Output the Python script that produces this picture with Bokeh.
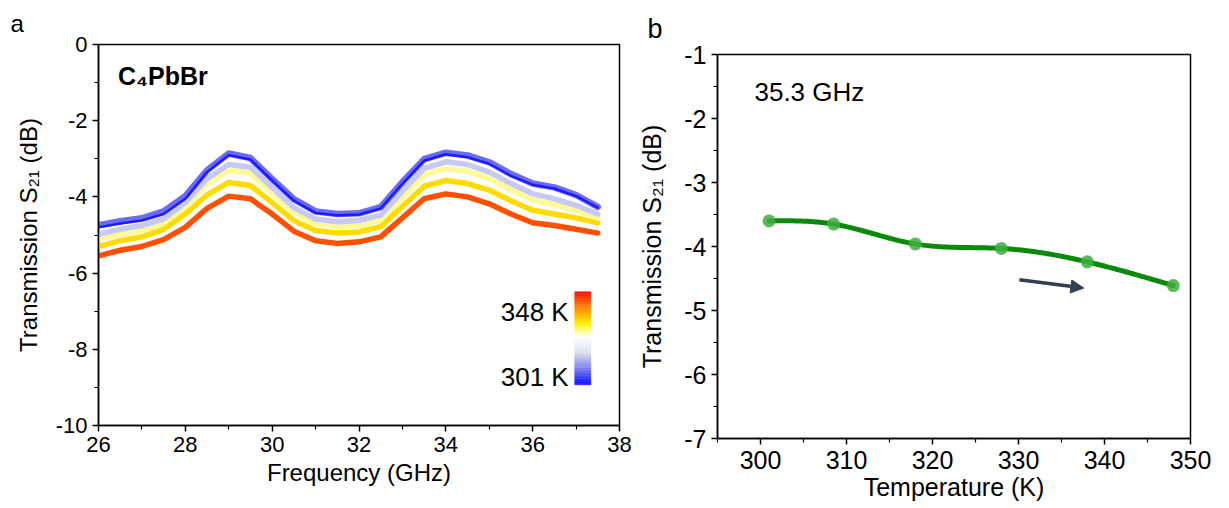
import numpy as np
from bokeh.plotting import figure
from bokeh.models import Range1d, Label, Arrow, NormalHead, FixedTicker, CustomJSTickFormatter, Spacer
from bokeh.layouts import row, column
from bokeh.embed import file_html
from bokeh.resources import INLINE

# ---------------- data: panel a ----------------
freq = [26.0, 26.5, 27.0, 27.5, 28.0, 28.5, 29.0, 29.5, 30.0, 30.5, 31.0, 31.5,
        32.0, 32.5, 33.0, 33.5, 34.0, 34.5, 35.0, 35.5, 36.0, 36.5, 37.0, 37.5]
s21_301 = [-4.80, -4.70, -4.62, -4.45, -4.05, -3.35, -2.90, -3.02, -3.57, -4.10, -4.42, -4.48,
           -4.46, -4.30, -3.66, -3.05, -2.88, -2.96, -3.13, -3.45, -3.68, -3.78, -3.98, -4.28]
s21_308 = [-4.74, -4.64, -4.56, -4.38, -3.98, -3.30, -2.86, -2.98, -3.53, -4.06, -4.38, -4.45,
           -4.43, -4.27, -3.61, -3.01, -2.84, -2.91, -3.09, -3.40, -3.65, -3.75, -3.95, -4.26]
s21_318 = [-4.98, -4.85, -4.75, -4.58, -4.15, -3.52, -3.15, -3.22, -3.75, -4.28, -4.58, -4.65,
           -4.62, -4.48, -3.85, -3.25, -3.08, -3.15, -3.35, -3.65, -3.92, -4.05, -4.22, -4.45]
s21_328 = [-5.10, -4.98, -4.88, -4.68, -4.25, -3.65, -3.30, -3.38, -3.90, -4.40, -4.70, -4.78,
           -4.75, -4.60, -4.00, -3.42, -3.25, -3.33, -3.52, -3.82, -4.08, -4.20, -4.35, -4.55]
s21_338 = [-5.30, -5.15, -5.05, -4.85, -4.45, -3.95, -3.62, -3.70, -4.15, -4.62, -4.88, -4.95,
           -4.92, -4.78, -4.25, -3.72, -3.57, -3.65, -3.82, -4.10, -4.35, -4.45, -4.55, -4.68]
s21_348 = [-5.55, -5.40, -5.30, -5.12, -4.80, -4.30, -3.98, -4.05, -4.45, -4.90, -5.15, -5.22,
           -5.18, -5.05, -4.55, -4.05, -3.92, -4.00, -4.18, -4.45, -4.68, -4.75, -4.85, -4.95]
cbar_labels = ["348 K", "301 K"]
xticks_a = [26, 28, 30, 32, 34, 36, 38]
yticks_a = [0, -2, -4, -6, -8, -10]

# ---------------- data: panel b ----------------
temp_b = [301.0, 308.5, 318.0, 328.0, 338.0, 348.0]
s21_b = [-3.60, -3.65, -3.96, -4.03, -4.24, -4.61]
xticks_b = [300, 310, 320, 330, 340, 350]
yticks_b = [-1, -2, -3, -4, -5, -6, -7]

FONT = "Liberation Sans"
FMT = CustomJSTickFormatter(code="return tick.toFixed(0);")


def style_axes(p, tick_size, title_size, xstand, ystand, xlstand):
    for ax in (p.xaxis[0], p.yaxis[0]):
        ax.axis_line_color = "black"
        ax.axis_line_width = 1.5
        ax.major_tick_line_color = "black"
        ax.major_tick_line_width = 1.5
        ax.minor_tick_line_color = "black"
        ax.minor_tick_line_width = 1.2
        ax.major_tick_in = 0
        ax.major_tick_out = 6
        ax.minor_tick_in = 0
        ax.minor_tick_out = 4
        ax.major_label_text_font = FONT
        ax.major_label_text_font_size = tick_size
        ax.major_label_text_color = "black"
        ax.axis_label_text_font = FONT
        ax.axis_label_text_font_size = title_size
        ax.axis_label_text_font_style = "normal"
        ax.axis_label_text_color = "black"
        ax.formatter = FMT
    p.xaxis[0].axis_label_standoff = xstand
    p.yaxis[0].axis_label_standoff = ystand
    p.xaxis[0].major_label_standoff = xlstand
    p.xgrid.visible = False
    p.ygrid.visible = False
    p.outline_line_color = "black"
    p.outline_line_width = 1.5
    p.outline_line_alpha = 1.0
    p.background_fill_color = "white"
    p.border_fill_color = "white"
    p.title.text_font = FONT
    p.title.text_font_style = "normal"
    p.title.text_color = "black"
    p.title.align = "left"


# ================= panel a =================
pa = figure(width=635, height=506, output_backend="svg", toolbar_location=None,
            x_range=Range1d(26, 38), y_range=Range1d(-10, 0), title="a",
            min_border_left=98, min_border_right=16, min_border_top=43, min_border_bottom=81)
style_axes(pa, "22px", "24px", 4, 11, 5)
pa.title.text_font_size = "24px"
pa.title.offset = -88
pa.title.standoff = 15
pa.xaxis.axis_label = "Frequency (GHz)"
pa.yaxis.axis_label = "Transmission S\u2082\u2081 (dB)"
pa.xaxis.ticker = FixedTicker(ticks=xticks_a, minor_ticks=[t + 1 for t in xticks_a[:-1]])
pa.yaxis.ticker = FixedTicker(ticks=yticks_a, minor_ticks=[t - 1 for t in yticks_a[:-1]])

series = [
    (s21_348, "#ff5000", 5.5),
    (s21_338, "#ffdc00", 5.5),
    (s21_328, "#fdfa98", 5.5),
    (s21_318, "#c8caf6", 5.5),
    (s21_308, "#6b6bf7", 6.5),
    (s21_301, "#1c1cff", 2.5),
]
for ys, col, w in series:
    pa.line(freq, ys, line_color=col, line_width=w, line_join="round", line_cap="round")

# colour bar (gradient drawn with thin quads)
anchors_pos = [0.0, 0.19, 0.35, 0.51, 0.58, 0.66, 0.83, 1.0]
anchors_col = [(10, 10, 255), (128, 134, 240), (222, 224, 234), (255, 255, 255),
               (255, 255, 150), (255, 240, 0), (255, 136, 0), (255, 10, 10)]
cb_x0, cb_x1, cb_y0, cb_y1 = 36.97, 37.34, -8.93, -6.49
n = 60
edges = np.linspace(cb_y0, cb_y1, n + 1)
cols = []
for i in range(n):
    f = (i + 0.5) / n
    rgb = [int(round(np.interp(f, anchors_pos, [c[k] for c in anchors_col]))) for k in range(3)]
    cols.append("#%02x%02x%02x" % tuple(rgb))
pa.quad(left=[cb_x0] * n, right=[cb_x1] * n, bottom=list(edges[:-1]), top=list(edges[1:]),
        fill_color=cols, line_color=cols, line_width=0.5)

pa.add_layout(Label(x=36.83, y=-7.01, text=cbar_labels[0], text_align="right",
                    text_baseline="alphabetic", text_font=FONT, text_font_size="26px",
                    text_color="black"))
pa.add_layout(Label(x=36.83, y=-8.72, text=cbar_labels[1], text_align="right",
                    text_baseline="alphabetic", text_font=FONT, text_font_size="26px",
                    text_color="black"))
pa.add_layout(Label(x=26.45, y=-0.83, text="C\u2084PbBr", text_align="left",
                    text_baseline="alphabetic", text_font=FONT, text_font_size="25px",
                    text_font_style="bold", text_color="black"))

# ================= panel b =================
pb = figure(width=593, height=507, output_backend="svg", toolbar_location=None,
            x_range=Range1d(295, 350), y_range=Range1d(-7, -1), title="b",
            min_border_left=78, min_border_right=38, min_border_top=52, min_border_bottom=70)
style_axes(pb, "25px", "25px", 1, 15, 6)
pb.title.text_font_size = "27px"
pb.title.offset = -70
pb.title.standoff = 21
pb.xaxis.axis_label = "Temperature (K)"
pb.yaxis.axis_label = "Transmission S\u2082\u2081 (dB)"
pb.xaxis.ticker = FixedTicker(ticks=xticks_b, minor_ticks=[295] + [t + 5 for t in xticks_b[:-1]])
pb.yaxis.ticker = FixedTicker(ticks=yticks_b, minor_ticks=[t - 0.5 for t in yticks_b[:-1]])


def natural_spline(x, y, m=200):
    x = np.asarray(x, float)
    y = np.asarray(y, float)
    nn = len(x)
    h = np.diff(x)
    A = np.zeros((nn, nn))
    r = np.zeros(nn)
    A[0, 0] = A[-1, -1] = 1.0
    for i in range(1, nn - 1):
        A[i, i - 1] = h[i - 1]
        A[i, i] = 2 * (h[i - 1] + h[i])
        A[i, i + 1] = h[i]
        r[i] = 6 * ((y[i + 1] - y[i]) / h[i] - (y[i] - y[i - 1]) / h[i - 1])
    M = np.linalg.solve(A, r)
    xs = np.linspace(x[0], x[-1], m)
    ys = np.empty_like(xs)
    for j, xv in enumerate(xs):
        i = min(np.searchsorted(x, xv) - 1, nn - 2)
        i = max(i, 0)
        t1 = x[i + 1] - xv
        t0 = xv - x[i]
        ys[j] = (M[i] * t1 ** 3 + M[i + 1] * t0 ** 3) / (6 * h[i]) \
            + (y[i] / h[i] - M[i] * h[i] / 6) * t1 + (y[i + 1] / h[i] - M[i + 1] * h[i] / 6) * t0
    return xs, ys


sx, sy = natural_spline(temp_b, s21_b)
pb.line(sx, sy, line_color="#0a8a0a", line_width=5, line_cap="round")
pb.scatter(temp_b, s21_b, size=13, fill_color="#3fae3f", fill_alpha=0.85, line_color=None)

pb.add_layout(Arrow(end=NormalHead(size=13, fill_color="#333f52", line_color="#333f52"),
                    x_start=330.1, y_start=-4.52, x_end=337.6, y_end=-4.65,
                    line_color="#333f52", line_width=3.5))
pb.add_layout(Label(x=299.3, y=-1.59, text="35.3 GHz", text_align="left",
                    text_baseline="alphabetic", text_font=FONT, text_font_size="26px",
                    text_color="black"))

layout = row(pa, column(Spacer(height=1, width=593), pb))
open("out.html", "w").write(file_html(layout, INLINE))
